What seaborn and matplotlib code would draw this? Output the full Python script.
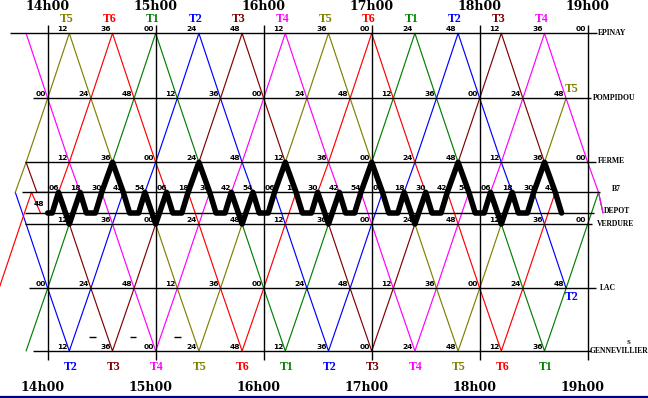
import matplotlib
matplotlib.use("Agg")
import matplotlib.pyplot as plt
import matplotlib.transforms as mtransforms
import numpy as np
import pandas as pd
import seaborn as sns

# ---------------- chart values ----------------
STATIONS = ["EPINAY", "POMPIDOU", "FERME", "B7", "DEPOT", "VERDURE", "LAC", "GENNEVILLIERS"]
STATION_TEXT = ["EPINAY", "POMPIDOU", "FERME", "B7", "DEPOT", "VERDURE", "LAC", "GENNEVILLIER"]

HOUR_LABELS = ["14h00", "15h00", "16h00", "17h00", "18h00", "19h00"]
HOUR_TIMES = ["14:00", "15:00", "16:00", "17:00", "18:00", "19:00"]

TRAINS = ["T1", "T2", "T3", "T4", "T5", "T6"]
TRAIN_COLORS = ["#008000", "#0000FF", "#800000", "#FF00FF", "#808000", "#FF0000"]
TRAIN_FIRST_TERMINUS = ["GENNEVILLIERS", "EPINAY", "EPINAY", "EPINAY", "GENNEVILLIERS", "GENNEVILLIERS"]
T1_TERMINUS_TIMES = ["13:48", "15:00", "16:12", "17:24", "18:36"]
T2_TERMINUS_TIMES = ["13:00", "14:12", "15:24", "16:36", "17:48"]
T3_TERMINUS_TIMES = ["13:24", "14:36", "15:48", "17:00", "18:12"]
T4_TERMINUS_TIMES = ["13:48", "15:00", "16:12", "17:24", "18:36"]
T5_TERMINUS_TIMES = ["13:00", "14:12", "15:24", "16:36", "17:48"]
T6_TERMINUS_TIMES = ["13:24", "14:36", "15:48", "17:00", "18:12"]
TRAIN_START = ["13:48", "13:42", "13:48", "13:48", "13:42", "14:06"]
TRAIN_END = ["19:06", "18:48", "18:42", "19:06", "18:48", "18:42"]
TRAIN_DEPOT_IN = ["19:08.5", None, None, "19:08.5", None, None]

# running profile EPINAY -> GENNEVILLIERS (minutes after the terminus), wait at B7
PROFILE_STOPS = ["EPINAY", "POMPIDOU", "FERME", "B7", "B7", "VERDURE", "LAC", "GENNEVILLIERS"]
PROFILE_MINUTES = [0, 12, 24, 30, 42, 48, 60, 72]

# early T6 run into the depot
T6_EARLY_STOPS = ["GENNEVILLIERS", "LAC", "VERDURE", "B7", "DEPOT"]
T6_EARLY_TIMES = ["13:21", "13:33", "13:45", "13:51", "13:56"]

# shuttle (thick black line)
SHUTTLE_TURN_STOPS = ["FERME", "VERDURE"] * 6 + ["FERME"]
SHUTTLE_TURN_TIMES = ["13:48", "14:12", "14:36", "15:00", "15:24", "15:48", "16:12",
                      "16:36", "17:00", "17:24", "17:48", "18:12", "18:36"]
SHUTTLE_LEG_STOPS = ["B7", "DEPOT", "DEPOT", "B7"]
SHUTTLE_LEG_MINUTES = [6, 9.5, 14.5, 18]
SHUTTLE_START = "14:00"
SHUTTLE_END = "18:45.5"

# crossing-time labels on each station line
EPINAY_TIMES = ["14:12", "14:36", "15:00", "15:24", "15:48", "16:12", "16:36",
                "17:00", "17:24", "17:48", "18:12", "18:36", "19:00"]
POMPIDOU_TIMES = ["14:00", "14:24", "14:48", "15:12", "15:36", "16:00", "16:24",
                  "16:48", "17:12", "17:36", "18:00", "18:24", "18:48"]
FERME_TIMES = ["14:12", "14:36", "15:00", "15:24", "15:48", "16:12", "16:36",
               "17:00", "17:24", "17:48", "18:12", "18:36", "19:00"]
B7_TIMES = ["14:06", "14:18", "14:30", "14:42", "14:54", "15:06", "15:18", "15:30",
            "15:42", "15:54", "16:06", "16:18", "16:30", "16:42", "16:54", "17:06",
            "17:18", "17:30", "17:42", "17:54", "18:06", "18:18", "18:30", "18:42"]
VERDURE_TIMES = ["14:12", "14:36", "15:00", "15:24", "15:48", "16:12", "16:36",
                 "17:00", "17:24", "17:48", "18:12", "18:36", "19:00"]
LAC_TIMES = ["14:00", "14:24", "14:48", "15:12", "15:36", "16:00", "16:24",
             "16:48", "17:12", "17:36", "18:00", "18:24", "18:48"]
GENN_TIMES = ["14:12", "14:36", "15:00", "15:24", "15:48", "16:12", "16:36",
              "17:00", "17:24", "17:48", "18:12", "18:36"]
DEPOT_NOTE = ("48", "13:55")
DASH_TIMES = ["14:25", "14:47.5", "15:12"]

# ---------------- layout ----------------
W, H = 648, 398
PX0, PXM = 47.7, 1.8          # pixel of 14h00, pixels per minute
Y = {"EPINAY": 33.3, "POMPIDOU": 98.3, "FERME": 162.3, "B7": 192.3, "DEPOT": 213.0,
     "VERDURE": 224.0, "LAC": 288.3, "GENNEVILLIERS": 351.0}
LINE_SPAN = {"EPINAY": (10, 597), "POMPIDOU": (33, 591), "FERME": (25, 596),
             "B7": (22, 600), "DEPOT": (25, 594), "VERDURE": (25, 592),
             "LAC": (29, 596), "GENNEVILLIERS": (33, 591)}
LABEL_POS = {"EPINAY": (598, 33.3), "POMPIDOU": (593, 98.3), "FERME": (598, 161),
             "B7": (612, 189), "DEPOT": (604, 211), "VERDURE": (597, 224.5),
             "LAC": (600, 288.3), "GENNEVILLIERS": (590, 351)}


def tm(s):
    h, m = s.split(":")
    return int(h) * 60 + float(m)


def px2t(px):
    return 840 + (px - PX0) / PXM


def clip(points, t0, t1):
    ts = np.array([p[0] for p in points], float)
    ys = np.array([Y[p[1]] for p in points], float)
    keep = (ts > t0) & (ts < t1)
    out_t = [t0] + list(ts[keep]) + [t1]
    out_y = [np.interp(t0, ts, ys)] + list(ys[keep]) + [np.interp(t1, ts, ys)]
    return out_t, out_y


sns.set_theme(style="white")
plt.rcParams["font.family"] = ["DejaVu Sans"]
plt.rcParams["text.color"] = "black"

fig = plt.figure(figsize=(W / 100, H / 100), dpi=100)
ax = fig.add_axes([0, 0, 1, 1])

# ---- train paths ----
terminus_lists = [T1_TERMINUS_TIMES, T2_TERMINUS_TIMES, T3_TERMINUS_TIMES,
                  T4_TERMINUS_TIMES, T5_TERMINUS_TIMES, T6_TERMINUS_TIMES]
rows = []
unit = 0
for k, name in enumerate(TRAINS):
    first = TRAIN_FIRST_TERMINUS[k]
    other = "EPINAY" if first == "GENNEVILLIERS" else "GENNEVILLIERS"
    pts = []
    for i, ts in enumerate(terminus_lists[k]):
        st = first if i % 2 == 0 else other
        stops = PROFILE_STOPS if st == "EPINAY" else PROFILE_STOPS[::-1]
        leg = [(tm(ts) + m, s) for m, s in zip(PROFILE_MINUTES, stops)]
        pts.extend(leg if i == 0 else leg[1:])
    tt, yy = clip(pts, tm(TRAIN_START[k]), tm(TRAIN_END[k]))
    if TRAIN_DEPOT_IN[k] is not None:
        tt.append(tm(TRAIN_DEPOT_IN[k]))
        yy.append(Y["DEPOT"])
    for a, b in zip(tt, yy):
        rows.append({"t": a, "y": b, "train": name, "unit": unit})
    unit += 1
for s, t in zip(T6_EARLY_STOPS, T6_EARLY_TIMES):
    rows.append({"t": tm(t), "y": Y[s], "train": "T6", "unit": unit})
unit += 1
df = pd.DataFrame(rows)

sns.lineplot(data=df, x="t", y="y", hue="train", units="unit", estimator=None,
             sort=False, hue_order=TRAINS, palette=dict(zip(TRAINS, TRAIN_COLORS)),
             legend=False, linewidth=0.85, ax=ax, zorder=2)

# ---- station lines & hour lines ----
for st in STATIONS:
    a, b = LINE_SPAN[st]
    ax.hlines(Y[st], px2t(a), px2t(b), color="black", lw=1.0, zorder=3)
ax.vlines([tm(h) for h in HOUR_TIMES], 25, 360, color="black", lw=1.0, zorder=3)
ax.axhline(397, color="#000080", lw=1.6, zorder=3)

# ---- shuttle ----
spts = []
for ts, st in zip(SHUTTLE_TURN_TIMES, SHUTTLE_TURN_STOPS):
    spts.append((tm(ts), st))
    for m, s in zip(SHUTTLE_LEG_MINUTES, SHUTTLE_LEG_STOPS):
        spts.append((tm(ts) + m, s))
st_t, st_y = clip(spts, tm(SHUTTLE_START), tm(SHUTTLE_END))
sdf = pd.DataFrame({"t": st_t, "y": st_y})
sns.lineplot(data=sdf, x="t", y="y", estimator=None, sort=False, color="black",
             linewidth=4.0, ax=ax, zorder=4)

# ---- text ----
serif_b = dict(family="DejaVu Serif", fontweight="bold", color="black")
for lab, h in zip(HOUR_LABELS, HOUR_TIMES):
    ax.text(tm(h), 7.0, lab, ha="center", va="center", fontsize=9, zorder=6, **serif_b)
    ax.text(tm(h) - 3, 387.5, lab, ha="center", va="center", fontsize=9, zorder=6, **serif_b)

tlab = dict(family="Liberation Serif", fontweight="bold", fontsize=8.5)
for k, name in enumerate(TRAINS):
    first = TRAIN_FIRST_TERMINUS[k]
    other = "EPINAY" if first == "GENNEVILLIERS" else "GENNEVILLIERS"
    for i, ts in enumerate(terminus_lists[k]):
        st = first if i % 2 == 0 else other
        t = tm(ts)
        if not (tm("14:00") <= t <= tm("19:00")):
            continue
        if st == "EPINAY":
            ax.text(t - 1.7, 19.0, name, color=TRAIN_COLORS[k], ha="center", va="center", zorder=6, **tlab)
        else:
            ax.text(t + 0.5, 367, name, color=TRAIN_COLORS[k], ha="center", va="center", zorder=6, **tlab)
# labels at the end of the T5 and T2 runs
ax.text(tm(TRAIN_END[4]) + 3, Y["POMPIDOU"] - 9, "T5", color=TRAIN_COLORS[4],
        ha="center", va="center", zorder=6, **tlab)
ax.text(tm(TRAIN_END[1]) + 3, Y["LAC"] + 9, "T2", color=TRAIN_COLORS[1],
        ha="center", va="center", zorder=6, **tlab)

small = dict(fontsize=5.4, fontweight="bold", family="DejaVu Sans", color="black", zorder=6)
cross = {"EPINAY": EPINAY_TIMES, "POMPIDOU": POMPIDOU_TIMES, "FERME": FERME_TIMES,
         "B7": B7_TIMES, "VERDURE": VERDURE_TIMES, "LAC": LAC_TIMES,
         "GENNEVILLIERS": GENN_TIMES}
for st, times in cross.items():
    off = 5.0 if st == "B7" else 7.0
    for ts in times:
        minute = int(round(tm(ts))) % 60
        ax.text(tm(ts) - off / PXM, Y[st] - 1.0, f"{minute:02d}", ha="center", va="bottom", **small)
ax.text(tm(DEPOT_NOTE[1]), Y["DEPOT"] - 8.5, DEPOT_NOTE[0], ha="center", va="center", **small)

dash_x = np.array([tm(d) for d in DASH_TIMES])
ax.hlines([Y["GENNEVILLIERS"] - 14] * len(dash_x), dash_x - 1.8, dash_x + 1.8, color="black", lw=1.0, zorder=3)

blend = mtransforms.blended_transform_factory(ax.transAxes, ax.transData)
for st, txt in zip(STATIONS, STATION_TEXT):
    x, y = LABEL_POS[st]
    ax.text(x / W, y, txt, transform=blend, ha="left", va="center", fontsize=5.5,
            family="Liberation Serif", fontweight="bold", color="black", zorder=6)
ax.text(628 / W, 342, "S", transform=blend, ha="center", va="center", fontsize=4.8,
        family="Liberation Serif", fontweight="bold", color="black", zorder=6)

ax.set_xlim(px2t(0), px2t(W))
ax.set_ylim(H, 0)
ax.axis("off")
fig.savefig("out.png", dpi=100, facecolor="white")
